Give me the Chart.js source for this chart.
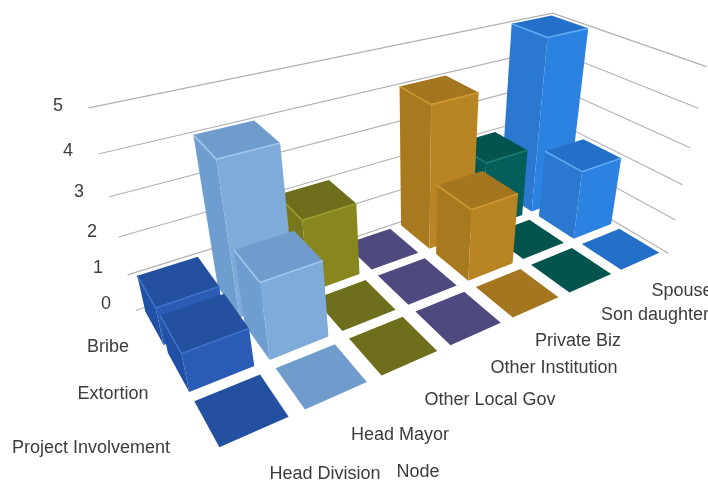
<!DOCTYPE html>
<html>
<head>
<meta charset="utf-8">
<style>
  html, body { margin: 0; padding: 0; background: #fff; }
  canvas { display: block; filter: blur(0.7px); }
</style>
<script src="https://cdn.jsdelivr.net/npm/chart.js@4"></script>
</head>
<body>
<canvas id="chart-canvas" width="708" height="482"></canvas>
<script>
const nodes = ['Head Division', 'Head Mayor', 'Other Local Gov', 'Other Institution', 'Private Biz', 'Son daughter', 'Spouse'];
const rows = ['Bribe', 'Extortion', 'Project Involvement'];
const tickLabels = [0, 1, 2, 3, 4, 5];

const bribe = [1, 4, 2, 0, 4, 2, 5];
const extortion = [1, 2, 0, 0, 2, 0, 2];
const projectInvolvement = [0, 0, 0, 0, 0, 0, 0];

// top, left face, front face, bevel
const nodeColors = [
  ['#23509f', '#2250a6', '#2a5cb5', '#3f72c8'],
  ['#6f9ccc', '#6e9dcf', '#7fabdb', '#a2c6ec'],
  ['#6d6f1c', '#77771b', '#87861f', '#9c9c30'],
  ['#4e4a80', '#4e4a80', '#4e4a80', '#4e4a80'],
  ['#a3761f', '#a87a20', '#b98524', '#d09a35'],
  ['#04544e', '#035854', '#045e5a', '#1c7c72'],
  ['#2470c8', '#2a78d0', '#2b82e0', '#62aaf2']
];

// where the text sits on the picture
const valueLabelAt = [[106, 304], [98, 268], [92, 232], [79, 192], [68, 151], [58, 106]];
const rowLabelAt = [[108, 347], [113, 394], [91, 448]];
const nodeLabelAt = [[325, 474], [400, 435], [490, 400], [554, 368], [578, 341], [655, 315], [682, 291]];

// camera: axis position (node, row, value) -> picture position
const cameraPoints = [
  [0, 0, 0, 135, 308], [0, 0, 5, 89, 108], [7, 0, 0, 538, 178], [7, 0, 5, 552, 12],
  [7, 3, 0, 672, 252], [7, 3, 5, 707, 68],
  [0.1, 2.09, 0, 196, 403], [0.9, 2.09, 0, 261, 376], [0.9, 2.91, 0, 287, 417], [0.1, 2.91, 0, 219, 447],
  [6.1, 2.09, 0, 583, 245], [6.9, 2.09, 0, 619, 229], [6.9, 2.91, 0, 657, 252], [6.1, 2.91, 0, 619, 268]
];
const barWidth = 0.8;
const barDepth = 0.82;

function solveCamera() {
  const n = 11;
  const ata = Array.from({ length: n }, () => new Array(n + 1).fill(0));
  const add = (r, b) => {
    for (let i = 0; i < n; i++) {
      for (let j = 0; j < n; j++) ata[i][j] += r[i] * r[j];
      ata[i][n] += r[i] * b;
    }
  };
  cameraPoints.forEach(([c, r, v, px, py]) => {
    const u = c / nodes.length, w = r / rows.length, h = v / 5;
    add([u, w, h, 1, 0, 0, 0, 0, -px * u, -px * w, -px * h], px);
    add([0, 0, 0, 0, u, w, h, 1, -py * u, -py * w, -py * h], py);
  });
  for (let i = 0; i < n; i++) {
    let p = i;
    for (let k = i + 1; k < n; k++) if (Math.abs(ata[k][i]) > Math.abs(ata[p][i])) p = k;
    [ata[i], ata[p]] = [ata[p], ata[i]];
    for (let k = 0; k < n; k++) {
      if (k === i) continue;
      const f = ata[k][i] / ata[i][i];
      for (let j = i; j <= n; j++) ata[k][j] -= f * ata[i][j];
    }
  }
  return ata.map((r, i) => r[n] / r[i]);
}
const cam = solveCamera();

function project(u, w, h) {
  const d = cam[8] * u + cam[9] * w + cam[10] * h + 1;
  return [
    (cam[0] * u + cam[1] * w + cam[2] * h + cam[3]) / d,
    (cam[4] * u + cam[5] * w + cam[6] * h + cam[7]) / d
  ];
}

function poly(ctx, pts, fill) {
  ctx.beginPath();
  pts.forEach((p, i) => i ? ctx.lineTo(p[0], p[1]) : ctx.moveTo(p[0], p[1]));
  ctx.closePath();
  ctx.fillStyle = fill;
  ctx.fill();
}

function edge(ctx, a, b, color) {
  ctx.beginPath();
  ctx.moveTo(a[0], a[1]);
  ctx.lineTo(b[0], b[1]);
  ctx.strokeStyle = color;
  ctx.lineWidth = 1.6;
  ctx.stroke();
}

const bars3d = {
  id: 'bars3d',
  beforeDatasetsDraw(chart) {
    const { ctx } = chart;
    const { x, y, z } = chart.scales;
    const fx = p => (p - x.left) / x.width;
    const fy = p => (y.bottom - p) / y.height;
    const fz = p => (p - z.left) / z.width;

    ctx.save();
    // walls
    ctx.strokeStyle = '#b0b0b0';
    ctx.lineWidth = 1.1;
    tickLabels.forEach(t => {
      const h = fy(y.getPixelForValue(t));
      const a = project(0, 0, h), b = project(1, 0, h), c = project(1, 1, h);
      ctx.beginPath();
      ctx.moveTo(a[0], a[1]);
      ctx.lineTo(b[0], b[1]);
      ctx.lineTo(c[0], c[1]);
      ctx.stroke();
    });

    // bars, back row first, right to left
    const du = barWidth / nodes.length / 2;
    const dw = barDepth / rows.length / 2;
    rows.forEach((row, r) => {
      const w = fz(z.getPixelForValue(r));
      const bars = chart.getDatasetMeta(r).data;
      for (let c = nodes.length - 1; c >= 0; c--) {
        const u = fx(bars[c].x), h = fy(bars[c].y);
        const col = nodeColors[c];
        const p = (a, b, v) => project(u + a * du, w + b * dw, v);
        if (h > 0) {
          poly(ctx, [p(-1, -1, 0), p(-1, 1, 0), p(-1, 1, h), p(-1, -1, h)], col[1]);
          poly(ctx, [p(-1, 1, 0), p(1, 1, 0), p(1, 1, h), p(-1, 1, h)], col[2]);
        }
        poly(ctx, [p(-1, -1, h), p(1, -1, h), p(1, 1, h), p(-1, 1, h)], col[0]);
        if (h > 0) {
          edge(ctx, p(-1, -1, h), p(-1, 1, h), col[3]);
          edge(ctx, p(-1, 1, h), p(1, 1, h), col[3]);
        }
      }
    });

    // text
    ctx.font = '18px "Liberation Sans", Arial, sans-serif';
    ctx.fillStyle = '#3c3c3c';
    ctx.textAlign = 'center';
    ctx.textBaseline = 'middle';
    tickLabels.forEach((t, i) => ctx.fillText(String(t), valueLabelAt[i][0], valueLabelAt[i][1]));
    rows.forEach((t, i) => ctx.fillText(t, rowLabelAt[i][0], rowLabelAt[i][1]));
    nodes.forEach((t, i) => ctx.fillText(t, nodeLabelAt[i][0], nodeLabelAt[i][1]));
    ctx.fillText('Node', 418, 472);
    ctx.restore();
  }
};

new Chart(document.getElementById('chart-canvas'), {
  type: 'bar',
  data: {
    labels: nodes,
    datasets: [
      { label: rows[0], data: bribe },
      { label: rows[1], data: extortion },
      { label: rows[2], data: projectInvolvement }
    ]
  },
  options: {
    responsive: false,
    animation: false,
    grouped: false,
    backgroundColor: 'rgba(0,0,0,0)',
    borderWidth: 0,
    layout: { padding: 0 },
    plugins: { legend: { display: false }, tooltip: { enabled: false } },
    scales: {
      x: { type: 'category', display: false },
      y: { type: 'linear', min: 0, max: 5, display: false, ticks: { stepSize: 1 } },
      z: { type: 'category', axis: 'x', labels: rows, offset: true, display: false }
    }
  },
  plugins: [bars3d]
});
</script>
</body>
</html>
